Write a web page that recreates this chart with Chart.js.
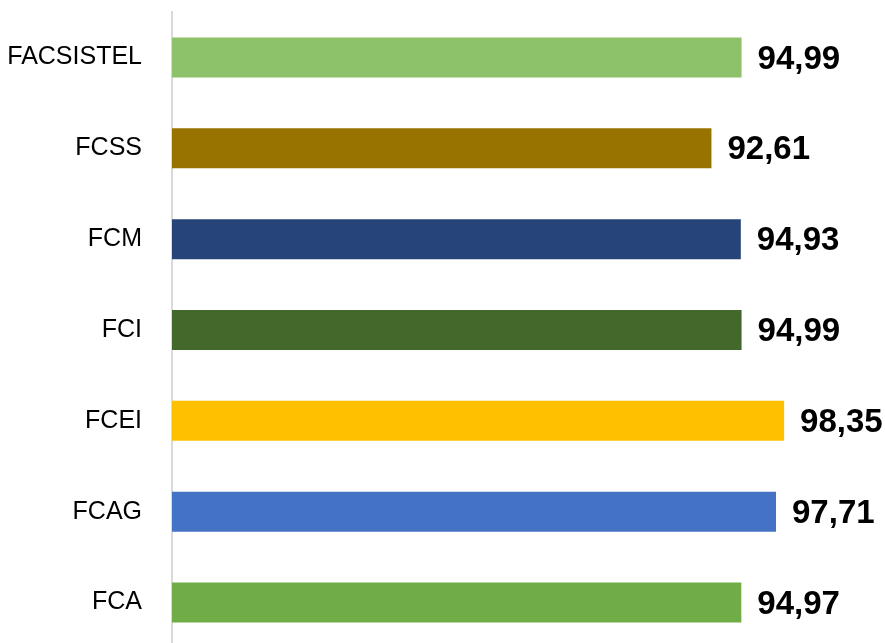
<!DOCTYPE html>
<html lang="es">
<head>
    <meta charset="UTF-8">
    <title>Facultades</title>
    <script src="https://cdn.jsdelivr.net/npm/chart.js"></script>
    <style>
        html, body {
            margin: 0;
            padding: 0;
            background: #ffffff;
            overflow: hidden;
        }
        canvas {
            display: block;
        }
    </style>
</head>
<body>

<canvas id="barChart" width="885" height="649"></canvas>

<script>
    const facultades = ["FACSISTEL", "FCSS", "FCM", "FCI", "FCEI", "FCAG", "FCA"];
    const valores = [94.99, 92.61, 94.93, 94.99, 98.35, 97.71, 94.97];
    const colores = ["#8DC26A", "#997300", "#264478", "#43682B", "#FFC000", "#4472C4", "#70AD47"];

    // draws the value next to each bar, with a comma as decimal mark
    const valueLabels = {
        id: 'valueLabels',
        afterDatasetsDraw(chart) {
            const ctx = chart.ctx;
            const meta = chart.getDatasetMeta(0);
            ctx.save();
            ctx.font = "bold 33px 'Liberation Sans', Arial, sans-serif";
            ctx.fillStyle = "#000000";
            ctx.textAlign = "left";
            ctx.textBaseline = "middle";
            meta.data.forEach((bar, i) => {
                const txt = valores[i].toFixed(2).replace('.', ',');
                ctx.fillText(txt, bar.x + 16, bar.y + 2);
            });
            ctx.restore();
        }
    };

    const ctx = document.getElementById('barChart').getContext('2d');
    new Chart(ctx, {
        type: 'bar',
        data: {
            labels: facultades,
            datasets: [{
                data: valores,
                backgroundColor: colores,
                borderWidth: 0,
                barPercentage: 0.44,
                categoryPercentage: 1.0
            }]
        },
        options: {
            indexAxis: 'y',
            responsive: false,
            animation: false,
            layout: {
                padding: { top: 12, right: 80, bottom: 1, left: 0 }
            },
            plugins: {
                legend: { display: false },
                tooltip: { enabled: false }
            },
            scales: {
                x: {
                    display: false,
                    min: 50,
                    max: 100
                },
                y: {
                    afterFit(scale) {
                        scale.width = 172;
                        // no extra room above/below for the labels
                        scale.paddingTop = 0;
                        scale.paddingBottom = 0;
                    },
                    grid: { display: false },
                    border: { color: "#D9D9D9", width: 2 },
                    ticks: {
                        color: "#000000",
                        padding: 22,
                        font: { family: "'Liberation Sans', Arial, sans-serif", size: 25 }
                    }
                }
            }
        },
        plugins: [valueLabels]
    });
</script>

</body>
</html>
